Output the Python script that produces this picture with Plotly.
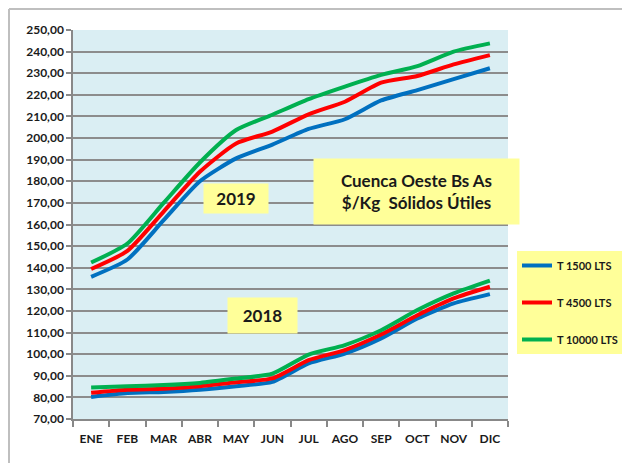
import plotly.graph_objects as go

months = ["ENE", "FEB", "MAR", "ABR", "MAY", "JUN", "JUL", "AGO", "SEP", "OCT", "NOV", "DIC"]
series_names = ["T 1500 LTS", "T 4500 LTS", "T 10000 LTS"]

t1500_2018 = [80.2, 82.0, 82.5, 83.5, 85.2, 87.2, 95.7, 100.3, 107.3, 116.5, 123.5, 127.8]
t4500_2018 = [82.1, 83.5, 84.0, 85.2, 87.0, 88.8, 97.2, 101.9, 109.1, 118.0, 125.8, 131.2]
t10000_2018 = [84.6, 85.2, 85.7, 86.7, 88.7, 91.0, 99.8, 104.2, 111.1, 120.4, 128.1, 134.0]

t1500_2019 = [135.8, 143.8, 162.0, 180.0, 190.6, 197.0, 204.2, 208.7, 217.4, 222.2, 227.3, 232.3]
t4500_2019 = [139.4, 147.8, 166.0, 184.4, 197.5, 203.0, 211.0, 216.8, 225.6, 228.7, 234.1, 238.4]
t10000_2019 = [142.4, 151.2, 170.0, 188.7, 203.7, 210.8, 218.0, 223.8, 229.2, 233.3, 240.0, 243.8]

colors = ["#0070C0", "#FF0000", "#00B050"]
data_2018 = [t1500_2018, t4500_2018, t10000_2018]
data_2019 = [t1500_2019, t4500_2019, t10000_2019]

fig = go.Figure()
for name, c, a, b in zip(series_names, colors, data_2018, data_2019):
    fig.add_trace(go.Scatter(
        x=months + [None] + months,
        y=a + [None] + b,
        mode="lines",
        name=name,
        legendgroup=name,
        connectgaps=False,
        line=dict(color=c, width=4, shape="spline", smoothing=0.6),
    ))

# page body has an 8px margin; compensate so the chart lands where intended
OFF = 8
W, H = 622, 455
L, R, T, B = 65, 122, 22, 44
pw, ph = W - L - R, H - T - B


def px(x):
    return (x - OFF - L) / pw


def py(y):
    return (H - B - (y - OFF)) / ph


font_family = "Lato, 'Open Sans', sans-serif"
tick_font = dict(family=font_family, size=12, color="#1a1a1a", weight="bold")

fig.update_layout(
    width=W, height=H,
    margin=dict(l=L, r=R, t=T, b=B, autoexpand=False),
    paper_bgcolor="white",
    plot_bgcolor="#DAEEF3",
    separators=",.",
    showlegend=True,
    legend=dict(
        x=px(517), y=py(251), xanchor="left", yanchor="top",
        bgcolor="#FFFF99",
        font=dict(family=font_family, size=11, color="#1a1a1a", weight="bold"),
        tracegroupgap=18,
        itemwidth=30,
    ),
    xaxis=dict(
        type="category",
        categoryorder="array", categoryarray=months,
        range=[-0.5, 11.5],
        tickson="boundaries",
        tickangle=0,
        automargin=False,
        ticks="outside", ticklen=6, tickcolor="#888888", tickwidth=1.5,
        showline=True, linecolor="#888888", linewidth=1.5,
        showgrid=False,
        tickfont=tick_font,
        ticklabelstandoff=8,
    ),
    yaxis=dict(
        range=[70, 250],
        dtick=10,
        tickformat=".2f",
        automargin=False,
        ticks="outside", ticklen=5, tickcolor="#888888", tickwidth=1.5,
        showline=True, linecolor="#888888", linewidth=1.5,
        showgrid=True, gridcolor="#8C8C8C", gridwidth=1.5,
        zeroline=False,
        tickfont=tick_font,
    ),
)

fig.add_annotation(
    x=px(519.5), y=py(191.5), xref="paper", yref="paper",
    text="Cuenca Oeste Bs As<br>$/Kg  Sólidos Útiles",
    showarrow=False, bgcolor="#FFFF99", width=205, height=65, borderpad=0,
    align="center",
    font=dict(family=font_family, size=17, color="#1a1a1a", weight="bold"),
)
fig.add_annotation(
    x=px(236), y=py(198.5), xref="paper", yref="paper",
    text="2019", showarrow=False, bgcolor="#FFFF99", width=64, height=29, borderpad=0,
    font=dict(family=font_family, size=17, color="#1a1a1a", weight="bold"),
)
fig.add_annotation(
    x=px(262.5), y=py(333.5), xref="paper", yref="paper",
    text="2018", showarrow=False, bgcolor="#FFFF99", width=69, height=35, borderpad=0,
    font=dict(family=font_family, size=17, color="#1a1a1a", weight="bold"),
)

# outer chart border (top and left edges visible)
fig.add_shape(type="line", xref="paper", yref="paper",
              x0=px(9), x1=px(9), y0=py(470), y1=py(9),
              line=dict(color="#BFBFBF", width=2))
fig.add_shape(type="line", xref="paper", yref="paper",
              x0=px(9), x1=px(640), y0=py(9), y1=py(9),
              line=dict(color="#BFBFBF", width=2))

fig.write_html("out.html")
